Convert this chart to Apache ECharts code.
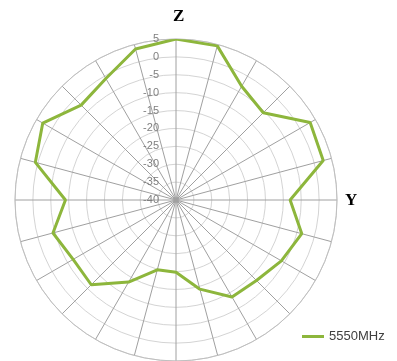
<!DOCTYPE html>
<html>
<head>
<meta charset="utf-8">
<script src="https://cdn.jsdelivr.net/npm/echarts@6/dist/echarts.min.js"></script>
<style>
html,body{margin:0;padding:0;background:#fff;}
#chart{width:397px;height:361px;}
</style>
</head>
<body>
<div id="chart"></div>
<script>
// Angles (degrees, clockwise from top)
var angles = [0, 15, 30, 45, 60, 75, 90, 105, 120, 135, 150, 165, 180, 195, 210, 225, 240, 255, 270, 285, 300, 315, 330, 345];
// Series values (dB), clockwise from top
var seriesName = '5550MHz';
var values = [5, 4.6, -3.3, -5.5, 3.3, 2.6, -8.1, -3.6, -6.0, -8.2, -8.7, -14.2, -19.8, -19.8, -13.5, -6.5, -6.8, -4.4, -9.1, 0.7, 3.0, -2.5, -0.8, 3.7];
// Radial axis
var rMin = -40, rMax = 5, rStep = 5;
var aStep = 15;
var axisNames = {top: 'Z', right: 'Y'};

var lineData = values.map(function (v, i) { return [v, angles[i]]; });
lineData.push([values[0], 360]);

var chart = echarts.init(document.getElementById('chart'), null, {renderer: 'canvas'});
chart.setOption({
  animation: false,
  backgroundColor: '#fff',
  polar: { center: [176, 200], radius: 161 },
  angleAxis: {
    type: 'value',
    min: 0, max: 360, interval: aStep,
    startAngle: 90,
    clockwise: true,
    axisLine: { show: true, lineStyle: { color: '#bfbfbf', width: 1 } },
    axisTick: { show: false },
    axisLabel: { show: false },
    splitLine: { show: true, lineStyle: { color: '#a0a0a0', width: 1 } }
  },
  radiusAxis: {
    type: 'value',
    min: rMin, max: rMax, interval: rStep,
    axisLine: { show: false },
    axisTick: { show: false },
    axisLabel: { show: true, color: '#7f7f7f', fontSize: 11, fontFamily: 'Liberation Sans, Arial', margin: 17, align: 'right' },
    splitLine: { show: true, lineStyle: { color: '#d4d4d4', width: 1 } }
  },
  legend: {
    data: [seriesName],
    left: 297, top: 325,
    icon: 'rect',
    itemWidth: 22, itemHeight: 3,
    textStyle: { color: '#404040', fontSize: 13, fontFamily: 'Liberation Sans, Arial' }
  },
  graphic: [
    { type: 'text', left: 173, top: 8, style: { text: axisNames.top, font: 'bold 17px "Liberation Serif", "Times New Roman", serif', fill: '#000' } },
    { type: 'text', left: 345, top: 192, style: { text: axisNames.right, font: 'bold 17px "Liberation Serif", "Times New Roman", serif', fill: '#000' } }
  ],
  series: [{
    name: seriesName,
    type: 'line',
    coordinateSystem: 'polar',
    data: lineData,
    symbol: 'none',
    lineStyle: { color: '#8db63c', width: 3 },
    itemStyle: { color: '#8db63c' }
  }]
});
</script>
</body>
</html>
